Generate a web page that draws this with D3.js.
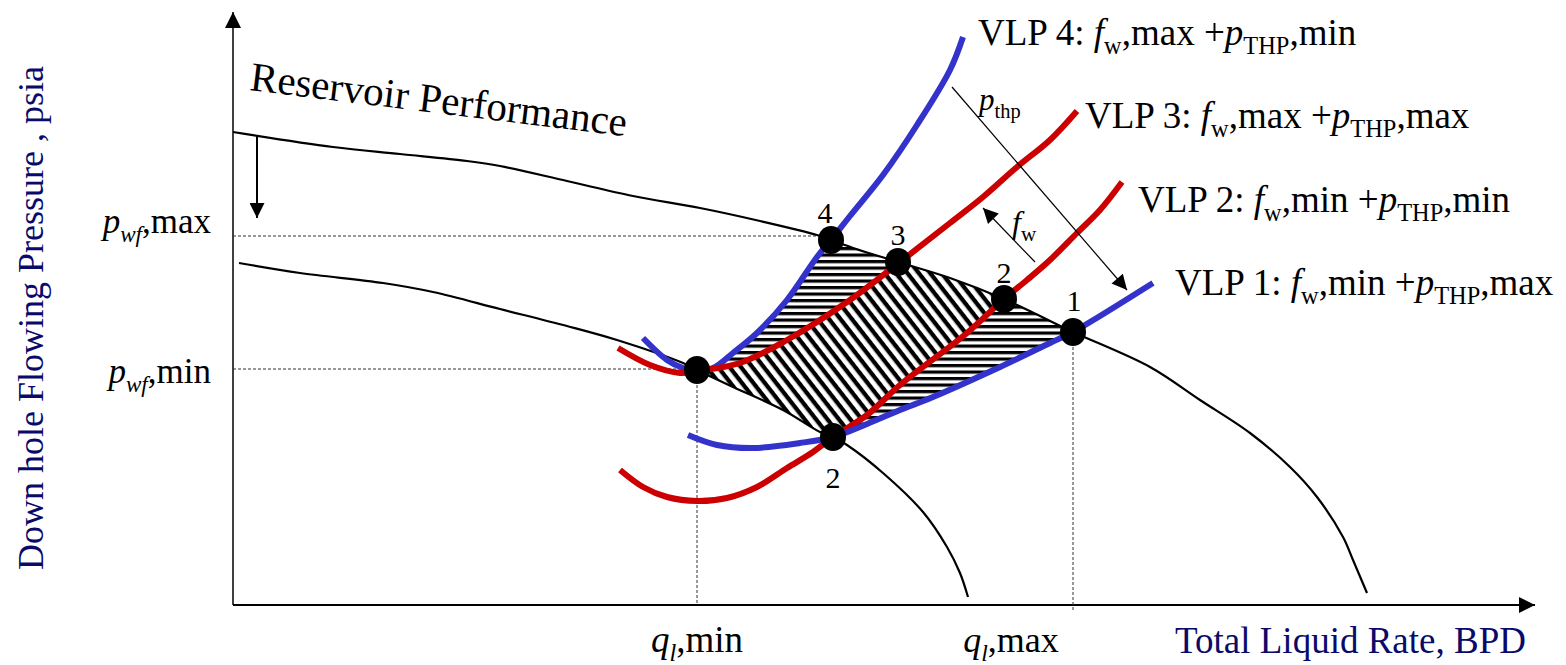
<!DOCTYPE html>
<html>
<head>
<meta charset="utf-8">
<script src="https://cdn.jsdelivr.net/npm/d3@7"></script>
<style>
  body { margin: 0; background: #fff; }
  text { font-family: "Liberation Serif", "Times New Roman", serif; }
</style>
</head>
<body>
<svg width="1566" height="665"></svg>
<script>
// schematic units: rate (BPD) , pressure (psia)
const iprHigh = [[0,473],[100,458],[167,451],[234,444],[267,439],[334,424],[400,409],[467,397],[527,384],
  [584,370],[598,365],[620,357],[665,343],[717,327],[771,306],[807,289],[840,273],[917,238],[967,205],
  [1017,172],[1057,138],[1084,108],[1110,68],[1120,45],[1134,12]];
const iprLow = [[6,342],[67,332],[150,322],[200,313],[267,296],[334,279],[384,265],[450,242],[464,235],
  [500,218],[550,195],[587,173],[600,168],[614,160],[650,132],[690,93],[714,58],[727,32],[735,8]];

const vlp4 = [[410,267],[434,245],[450,237],[464,235],[480,237],[500,252],[524,272],[554,305],[584,348],
  [598,365],[617,389],[650,430],[684,480],[717,535],[730,568]];
const vlp3 = [[385,257],[417,240],[447,232],[464,234],[507,242],[554,265],[617,305],[667,343],[717,382],
  [750,408],[784,438],[817,465],[844,494]];
const vlp2 = [[387,135],[410,118],[434,108],[464,104],[494,107],[524,118],[554,137],[580,153],[600,168],
  [634,190],[667,220],[734,272],[772,307],[794,325],[817,345],[844,372],[867,395],[889,423]];
const vlp1 = [[455,170],[484,160],[520,157],[567,162],[600,168],[634,181],[667,195],[700,208],[767,238],
  [817,262],[840,273],[867,289],[920,322]];

// operating points
const ptLeft = [464,235], ptLow = [600,168];
const pt4 = [598,365], pt3 = [665,343], pt2 = [771,306], pt1 = [840,273];
const pointLabels = [
  {p: pt4, t: '4', dx: -6, dy: -17},
  {p: pt3, t: '3', dx: 0, dy: -17},
  {p: pt2, t: '2', dx: 0, dy: -16},
  {p: pt1, t: '1', dx: 1, dy: -21},
  {p: ptLow, t: '2', dx: 0, dy: 51}
];

const vlpLabels = [
  {at: [745,560], t: [['VLP 4: ',''],['f','i'],['w','sub'],[',max +',''],['p','i'],['THP','sub'],[',min','']]},
  {at: [852,477], t: [['VLP 3: ',''],['f','i'],['w','sub'],[',max +',''],['p','i'],['THP','sub'],[',max','']]},
  {at: [905,393], t: [['VLP 2: ',''],['f','i'],['w','sub'],[',min +',''],['p','i'],['THP','sub'],[',min','']]},
  {at: [942,310], t: [['VLP 1: ',''],['f','i'],['w','sub'],[',min +',''],['p','i'],['THP','sub'],[',max','']]}
];

const arrows = [
  [[24,470],[24,387]],
  [[719,518],[894,315]],
  [[802,343],[750,397]]
];

const svg = d3.select('svg');
const x = d3.scaleLinear().domain([0,1300]).range([233,1533]);
const y = d3.scaleLinear().domain([0,600]).range([605,5]);
const navy = '#0a0a6a';

const line = d3.line()
  .x(d => x(d[0]))
  .y(d => y(d[1]))
  .curve(d3.curveCatmullRom.alpha(0.5));

const defs = svg.append('defs');
defs.append('marker').attr('id','head')
  .attr('viewBox','0 0 10 10').attr('refX',10).attr('refY',5)
  .attr('markerUnits','userSpaceOnUse').attr('markerWidth',17).attr('markerHeight',15)
  .attr('orient','auto')
  .append('path').attr('d','M0,0L10,5L0,10z').attr('fill','#000');
defs.append('marker').attr('id','axhead')
  .attr('viewBox','0 0 10 10').attr('refX',10).attr('refY',5)
  .attr('markerUnits','userSpaceOnUse').attr('markerWidth',18).attr('markerHeight',16)
  .attr('orient','auto')
  .append('path').attr('d','M0,0L10,5L0,10z').attr('fill','#000');

defs.append('pattern').attr('id','hstripe')
  .attr('patternUnits','userSpaceOnUse').attr('width',8).attr('height',6.5)
  .append('rect').attr('width',8).attr('height',3.2).attr('fill','#000');
const dg = defs.append('pattern').attr('id','dstripe')
  .attr('patternUnits','userSpaceOnUse').attr('width',9).attr('height',9)
  .attr('patternTransform','rotate(52)');
dg.append('rect').attr('width',9).attr('height',4.3).attr('fill','#000');

const hatchG = svg.append('g');

// axes
svg.append('line')
  .attr('x1', x(0)).attr('y1', y(0)).attr('x2', x(0)).attr('y2', y(593))
  .attr('stroke','#000').attr('stroke-width',1.5).attr('marker-end','url(#axhead)');
svg.append('line')
  .attr('x1', x(0)).attr('y1', y(0)).attr('x2', x(1302)).attr('y2', y(0))
  .attr('stroke','#000').attr('stroke-width',2).attr('marker-end','url(#axhead)');

// guide lines
const guides = [
  [[0,pt4[1]+4],[pt4[0],pt4[1]+4]],
  [[0,ptLeft[1]+1],[ptLeft[0],ptLeft[1]+1]],
  [[ptLeft[0],ptLeft[1]],[ptLeft[0],0]],
  [[pt1[0],pt1[1]],[pt1[0],-7]]
];
svg.append('g').selectAll('line').data(guides).enter().append('line')
  .attr('x1', d => x(d[0][0])).attr('y1', d => y(d[0][1]))
  .attr('x2', d => x(d[1][0])).attr('y2', d => y(d[1][1]))
  .attr('stroke','#333').attr('stroke-width',1).attr('stroke-dasharray','3,2');

// IPR curves
const iprPaths = svg.append('g').selectAll('path').data([iprHigh, iprLow]).enter().append('path')
  .attr('d', line).attr('fill','none').attr('stroke','#000').attr('stroke-width',2.2);

// VLP curves
const vlps = [
  {d: vlp4, c: '#3333cc'},
  {d: vlp3, c: '#cc0000'},
  {d: vlp2, c: '#cc0000'},
  {d: vlp1, c: '#3333cc'}
];
const vlpPaths = svg.append('g').selectAll('path').data(vlps).enter().append('path')
  .attr('d', d => line(d.d)).attr('fill','none').attr('stroke', d => d.c).attr('stroke-width',6);

// hatched window, sampled from the drawn curves
function sample(node) {
  const L = node.getTotalLength(), out = [];
  for (let i = 0; i <= 600; i++) {
    const p = node.getPointAtLength(L * i / 600);
    out.push([p.x, p.y]);
  }
  return out;
}
const ip = iprPaths.nodes(), vp = vlpPaths.nodes();
const inX = (a, b) => p => p[0] >= x(a) && p[0] <= x(b);
const seg4 = sample(vp[0]).filter(inX(ptLeft[0], pt4[0]));
const segTop = sample(ip[0]).filter(inX(pt4[0], pt1[0]));
const seg1 = sample(vp[3]).filter(inX(ptLow[0], pt1[0])).reverse();
const segLow = sample(ip[1]).filter(inX(ptLeft[0], ptLow[0])).reverse();
const win = seg4.concat(segTop, seg1, segLow);

defs.append('clipPath').attr('id','winclip')
  .append('path').attr('d', d3.line()(win) + 'Z');
hatchG.append('path').attr('d', d3.line()(win) + 'Z').attr('fill','url(#hstripe)');
const mid = sample(vp[1]).filter(p => p[0] >= x(ptLeft[0]) - 2)
  .concat(sample(vp[2]).filter(p => p[0] >= x(ptLeft[0]) - 2).reverse());
const midG = hatchG.append('g').attr('clip-path','url(#winclip)');
midG.append('path').attr('d', d3.line()(mid) + 'Z').attr('fill','#fff');
midG.append('path').attr('d', d3.line()(mid) + 'Z').attr('fill','url(#dstripe)');

// arrows
svg.append('g').selectAll('line').data(arrows).enter().append('line')
  .attr('x1', d => x(d[0][0])).attr('y1', d => y(d[0][1]))
  .attr('x2', d => x(d[1][0])).attr('y2', d => y(d[1][1]))
  .attr('stroke','#000').attr('stroke-width', (d, i) => i === 0 ? 2 : 1.2)
  .attr('marker-end','url(#head)');

// points
svg.append('g').selectAll('ellipse').data([ptLeft, ptLow, pt4, pt3, pt2, pt1]).enter().append('ellipse')
  .attr('cx', d => x(d[0])).attr('cy', d => y(d[1])).attr('rx',13).attr('ry',14).attr('fill','#000');

svg.append('g').selectAll('text').data(pointLabels).enter().append('text')
  .attr('x', d => x(d.p[0]) + d.dx).attr('y', d => y(d.p[1]) + d.dy)
  .attr('text-anchor','middle').attr('font-size',30).text(d => d.t);

// rich text helper
function rich(parent, parts, size) {
  const t = parent.append('text').attr('font-size', size);
  let shifted = false;
  parts.forEach(([s, k]) => {
    const ts = t.append('tspan').text(s);
    const sub = k.includes('sub');
    if (k.includes('i')) ts.attr('font-style','italic');
    if (sub) ts.attr('font-size', size * 0.66);
    const dy = sub && !shifted ? size * 0.25 : (!sub && shifted ? -size * 0.25 : 0);
    if (dy) ts.attr('dy', dy);
    shifted = sub;
  });
  return t;
}

vlpLabels.forEach(l => {
  rich(svg, l.t, 37).attr('x', x(l.at[0])).attr('y', y(l.at[1]));
});

rich(svg, [['p','i'],['thp','sub']], 31).attr('x', x(746)).attr('y', y(495));
rich(svg, [['f','i'],['w','sub']], 32).attr('x', x(779)).attr('y', y(372));

rich(svg, [['p','i'],['wf','isub'],[',max','']], 35).attr('x', 211).attr('y', 233).attr('text-anchor','end');
rich(svg, [['p','i'],['wf','isub'],[',min','']], 35).attr('x', 211).attr('y', 383).attr('text-anchor','end');
rich(svg, [['q','i'],['l','isub'],[',min','']], 37).attr('x', x(ptLeft[0])).attr('y', 652).attr('text-anchor','middle');
rich(svg, [['q','i'],['l','isub'],[',max','']], 36).attr('x', x(pt1[0]) - 62).attr('y', 652).attr('text-anchor','middle');

svg.append('text').attr('x', 1175).attr('y', 653).attr('font-size',37).attr('fill', navy)
  .text('Total Liquid Rate, BPD');
svg.append('text').attr('transform','translate(43,318) rotate(-90)')
  .attr('text-anchor','middle').attr('font-size',36).attr('fill', navy)
  .text('Down hole Flowing Pressure , psia');

svg.append('text').attr('transform','translate(249,90) rotate(7)')
  .attr('font-size',41).text('Reservoir Performance');
</script>
</body>
</html>
